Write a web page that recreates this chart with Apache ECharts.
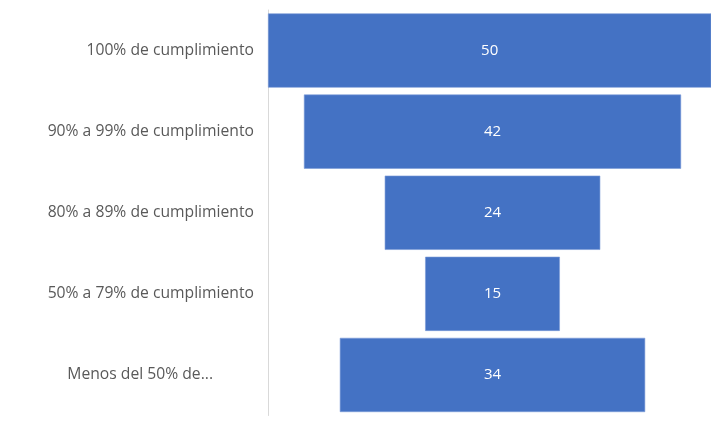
<!DOCTYPE html>
<html>
<head>
<meta charset="utf-8">
<script src="https://cdn.jsdelivr.net/npm/echarts@6/dist/echarts.min.js"></script>
<style>
  html, body { margin: 0; padding: 0; background: #fff; }
  #main { width: 711px; height: 421px; }
</style>
</head>
<body>
<div id="main"></div>
<script>
var categories = [
  "100% de cumplimiento",
  "90% a 99% de cumplimiento",
  "80% a 89% de cumplimiento",
  "50% a 79% de cumplimiento",
  "Menos del 50% de..."
];
var values = [50, 42, 24, 15, 34];

var maxVal = Math.max.apply(null, values);
// hueco invisible para centrar cada barra
var offsets = values.map(function (v) { return (maxVal - v) / 2; });

var chart = echarts.init(document.getElementById("main"));

var option = {
  animation: false,
  grid: { left: 268, right: 0, top: 10, bottom: 5.5 },
  xAxis: {
    type: "value",
    min: 0,
    // la barra mayor se sale un poco por la derecha (recortada)
    max: maxVal * 443 / 449,
    show: false
  },
  yAxis: {
    type: "category",
    inverse: true,
    data: categories.map(function (c, i) {
      // la etiqueta recortada queda más a la izquierda
      return i === categories.length - 1 ? { value: c, textStyle: { padding: [0, 41, 0, 0] } } : c;
    }),
    axisLine: { show: true, lineStyle: { color: "#d9d9d9", width: 1 } },
    axisTick: { show: false },
    axisLabel: {
      color: "#595959",
      fontSize: 15.7,
      fontFamily: "Open Sans",
      margin: 14
    }
  },
  series: [
    {
      type: "bar",
      stack: "f",
      data: offsets,
      itemStyle: { color: "rgba(0,0,0,0)" },
      silent: true,
      barCategoryGap: "8.5%"
    },
    {
      type: "bar",
      stack: "f",
      data: values,
      barCategoryGap: "8.5%",
      itemStyle: { color: "#4472C4", borderColor: "#7a9ad6", borderWidth: 0.6 },
      label: {
        show: true,
        position: "inside",
        color: "#ffffff",
        fontSize: 15,
        fontFamily: "Open Sans"
      }
    }
  ]
};

chart.setOption(option);
</script>
</body>
</html>
